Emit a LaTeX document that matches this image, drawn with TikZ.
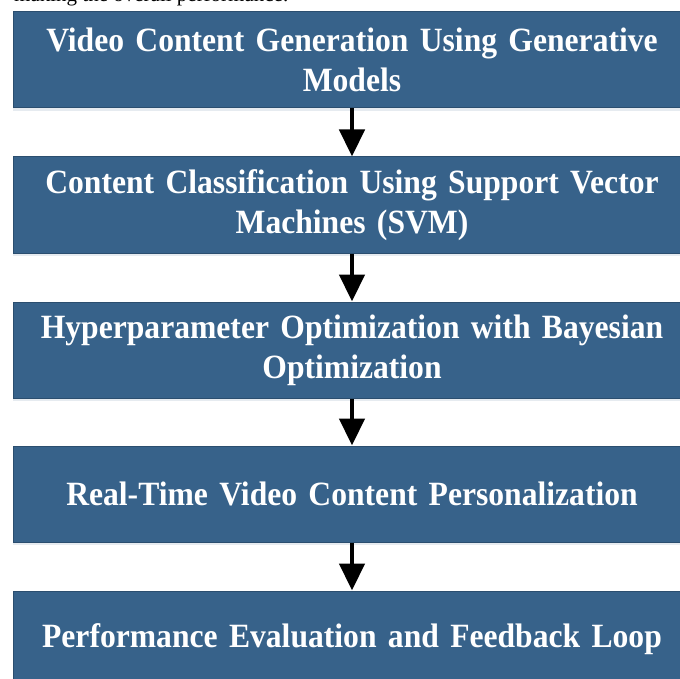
\documentclass[tikz,border=0pt]{standalone}
\usepackage{fontspec}
\setmainfont{Liberation Serif}
\newfontfamily\stagefont[FakeStretch=0.93,WordSpace=0.7]{Liberation Serif}
\usepackage{xcolor}
\usetikzlibrary{arrows.meta,positioning,shadows}

\definecolor{stageblue}{HTML}{37628A}
\definecolor{stageedge}{HTML}{2B4E6F}

\begin{document}
\begin{tikzpicture}[x=1pt, y=-1pt, >={Triangle[length=27pt, width=25pt]}]
\useasboundingbox (0,0) rectangle (680,679);
\tikzset{
  stage/.style={draw=stageedge, line width=1pt, fill=stageblue, text=white,
    minimum width=678pt, minimum height=96pt, text width=650pt, inner sep=0pt,
    align=center, font=\stagefont\fontsize{34}{40}\selectfont\bfseries,
    drop shadow={shadow xshift=0pt, shadow yshift=-3pt, opacity=0.25, fill=stageblue!50}},
  flow/.style={->, line width=4.5pt}
}
% running text cut at the top
\node[anchor=base west, inner sep=0pt, font=\fontsize{21}{21}\selectfont] (lead) at (14,2) {making the overall performance.};
% stages
\node[stage] (gen) at (352,60) {Video Content Generation Using Generative\\Models};
\node[stage] (svm) at (352,205) {Content Classification Using Support Vector\\Machines (SVM)};
\node[stage] (bayes) at (352,350) {Hyperparameter Optimization with Bayesian\\Optimization};
\node[stage] (perso) at (352,494) {Real-Time Video Content Personalization};
\node[stage] (eval) at (352,639) {Performance Evaluation and Feedback Loop};
% arrows
\draw[flow] (gen) -- (svm);
\draw[flow] (svm) -- (bayes);
\draw[flow] (bayes) -- (perso);
\draw[flow] (perso) -- (eval);
\end{tikzpicture}
\end{document}
